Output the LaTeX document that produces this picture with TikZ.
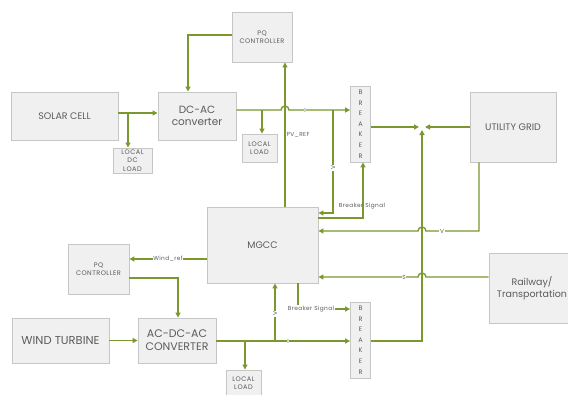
\documentclass[tikz,border=0pt]{standalone}
\usepackage{fontspec}
\setmainfont{Poppins}
\newfontfamily\spaced[LetterSpace=7]{Poppins}
\usetikzlibrary{arrows.meta,calc}
\definecolor{lg}{RGB}{122,152,46}
\definecolor{bx}{RGB}{240,240,240}
\definecolor{bd}{RGB}{198,198,198}
\definecolor{tx}{RGB}{92,92,92}
\begin{document}
\begin{tikzpicture}[x=1pt,y=-1pt,
  box/.style={draw=bd,fill=bx,line width=0.9pt,text=tx,align=center,inner sep=1pt},
  big/.style={font=\fontsize{9.5}{12}\selectfont},
  small/.style={font=\spaced\fontsize{6.6}{8.2}\selectfont},
  brk/.style={box,minimum width=20pt,minimum height=76pt,font=\fontsize{6.5}{10.6}\selectfont},
  ln/.style={draw=lg,line width=1.4pt},
  arr/.style={ln,-{Triangle[length=5pt,width=5pt]}},
  lbl/.style={text=tx,font=\spaced\fontsize{5.8}{7}\selectfont,inner sep=0.6pt}]
\useasboundingbox (0,0) rectangle (568,394);
\fill[white] (0,0) rectangle (568,394);
% boxes
\node[box,big,minimum width=107pt,minimum height=48pt] (solar) at (64.5,116) {SOLAR CELL};
\node[box,small,minimum width=39pt,minimum height=25pt] (dcload) at (132.5,160.5) {LOCAL\\DC\\LOAD};
\node[box,font=\fontsize{10.5}{12}\selectfont,minimum width=78pt,minimum height=48pt] (dcac) at (197,116) {DC-AC\\converter};
\node[box,small,minimum width=35pt,minimum height=28pt] (load1) at (259.5,148) {LOCAL\\LOAD};
\node[box,small,minimum width=60pt,minimum height=50pt] (pq1) at (262,37) {PQ\\CONTROLLER};
\node[brk] (brk1) at (360.5,124) {B\\R\\E\\A\\K\\E\\R};
\node[box,big,minimum width=86pt,minimum height=70pt] (grid) at (513,127) {UTILITY GRID};
\node[box,big,minimum width=111pt,minimum height=76pt] (mgcc) at (262.5,245) {MGCC};
\node[box,small,minimum width=61pt,minimum height=50pt] (pq2) at (98.5,269) {PQ\\CONTROLLER};
\node[box,font=\fontsize{11.5}{13}\selectfont,minimum width=97pt,minimum height=45pt] (wind) at (60.5,340.5) {WIND TURBINE};
\node[box,font=\fontsize{11}{13}\selectfont,minimum width=78pt,minimum height=45pt] (acdc) at (177,340.5) {AC-DC-AC\\CONVERTER};
\node[box,small,minimum width=35pt,minimum height=27pt] (load2) at (243.5,383.5) {LOCAL\\LOAD};
\node[brk] (brk2) at (360.5,340) {B\\R\\E\\A\\K\\E\\R};
\node[box,font=\fontsize{9.5}{12}\selectfont,minimum width=86pt,minimum height=70pt] (rail) at (532,288) {Railway/\\Transportation};
% helper coordinates
\coordinate (ya) at (0,113);
\coordinate (xb) at (128,0);
\coordinate (yc) at (35,35);
\coordinate (xd) at (188,0);
\coordinate (ye) at (0,110);
\coordinate (xf) at (262,0);
\coordinate (xpv) at (285,0);
\coordinate (xv) at (333,0);
\coordinate (yg) at (0,127);
\coordinate (xj) at (422,0);
\coordinate (yh) at (0,213);
\coordinate (yk) at (0,218);
\coordinate (xk) at (363,0);
\coordinate (xm) at (479,0);
\coordinate (ym) at (0,231);
\coordinate (yn) at (0,277);
\coordinate (yo) at (0,259);
\coordinate (yp) at (0,278);
\coordinate (xp) at (178,0);
\coordinate (yq) at (0,341);
\coordinate (xr) at (245,0);
\coordinate (xs) at (275,0);
\coordinate (xt) at (298,0);
\coordinate (yt) at (0,309);
\coordinate (jn) at (xj |- yg);
% top branch
\draw[arr] (solar.east |- ya) -- (dcac.west |- ya);
\draw[arr] (xb |- ya) -- (xb |- dcload.north);
\draw[arr] (pq1.west |- yc) -| (xd |- dcac.north);
\draw[arr] (dcac.east |- ye) -- ($(xpv |- ye)+(-4,0)$) arc[start angle=180,end angle=360,radius=4] -- (brk1.west |- ye);
\draw[arr] (xf |- ye) -- (xf |- load1.north);
\draw[arr] (xv |- ye) -- (xv |- yh) -- (mgcc.east |- yh);
\draw[arr] (mgcc.east |- yk) -| (xk |- brk1.south);
\draw[arr] (xpv |- mgcc.north) -- (xpv |- pq1.south);
\draw[arr] (brk1.east |- yg) -- ($(jn)+(-3,0)$);
\draw[arr] (grid.west) -- ($(jn)+(3,0)$);
\draw[arr] (brk2.east |- yq) -| ($(jn)+(0,3)$);
\draw[arr] (xm |- grid.south) -- (xm |- ym) -- ($(xj |- ym)+(4,0)$) arc[start angle=0,end angle=-180,radius=4] -- (mgcc.east |- ym);
\draw[arr] (rail.west |- yn) -- ($(xj |- yn)+(4,0)$) arc[start angle=0,end angle=-180,radius=4] -- (mgcc.east |- yn);
% bottom branch
\draw[arr] (mgcc.west |- yo) -- (pq2.east |- yo);
\draw[arr] (pq2.east |- yp) -| (xp |- acdc.north);
\draw[arr] (wind.east) -- (acdc.west);
\draw[arr] (acdc.east |- yq) -- (brk2.west |- yq);
\draw[arr] (xr |- yq) -- (xr |- load2.north);
\draw[arr] (xs |- yq) -- (xs |- mgcc.south);
\draw[arr] (xt |- mgcc.south) -- (xt |- yt) -- (brk2.west |- yt);
% labels
\node[lbl,fill=white] (lI1) at (305,110) {I};
\node[lbl,fill=white,rotate=90] (lV1) at (333,168) {V};
\node[lbl] (lpv) at (298,135) {PV\_REF};
\node[lbl] (lbs1) at (362,206) {Breaker Signal};
\node[lbl,fill=white] (lV2) at (442,231) {V};
\node[lbl,fill=white] (lS) at (404,277) {S};
\node[lbl,fill=white] (lwr) at (168,259) {Wind\_ref};
\node[lbl,fill=white] (lbs2) at (311,309) {Breaker Signal};
\node[lbl,fill=white,rotate=90] (lV3) at (275,314) {V};
\node[lbl,fill=white] (lI2) at (288,341) {I};
\end{tikzpicture}
\end{document}
